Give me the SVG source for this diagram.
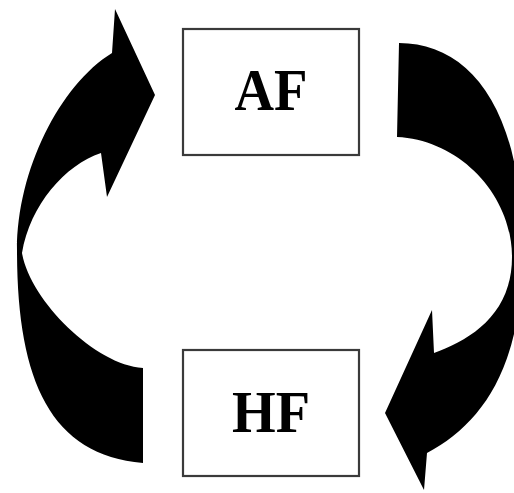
<svg xmlns="http://www.w3.org/2000/svg" width="514" height="493" viewBox="0 0 514 493">
<style>
.box{fill:#fff;stroke:#3a3a3a;stroke-width:2.2}
.lbl{font-family:"Liberation Serif","Times New Roman",serif;font-weight:bold;font-size:60px;fill:#000;text-anchor:middle}
.arr{fill:#000;stroke:none}
</style>
<rect width="514" height="493" fill="#fff"/>
<g id="connectors">
<path class="arr" d="M155,95 L107,197 L101,153 C65,165 30,205 22,253 C30,300 95,365 143,368 L143,463 C50,455 17,380 17,250 C17,170 60,85 112,53 L115,9 Z"/>
<path class="arr" d="M399,43 C470,43 525,110 522,257 C522,370 480,425 427,453 L424,490 L385,413 L432,310 L434,353 C470,340 512,315 512,257 C512,195 460,140 397,137 Z"/>
</g>
<g id="AF">
<rect class="box" x="183" y="29" width="176" height="126"/>
<text class="lbl" x="271" y="110" textLength="73" lengthAdjust="spacingAndGlyphs">AF</text>
</g>
<g id="HF">
<rect class="box" x="183" y="350" width="176" height="126"/>
<text class="lbl" x="271" y="432" textLength="78" lengthAdjust="spacingAndGlyphs">HF</text>
</g>
</svg>
